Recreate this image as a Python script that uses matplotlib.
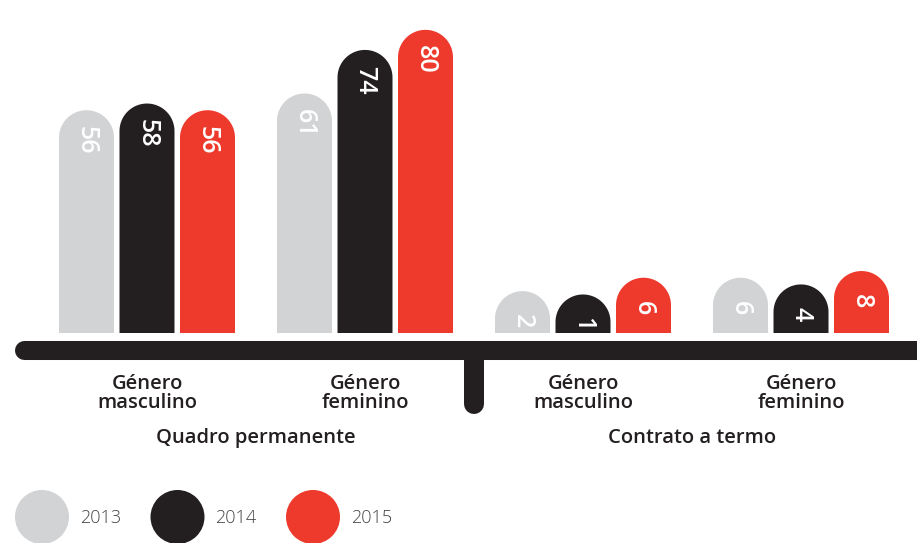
import numpy as np
import matplotlib
matplotlib.use("Agg")
import matplotlib.pyplot as plt
from matplotlib.patches import Polygon

# ------------------------------------------------------------------
# Data
# ------------------------------------------------------------------
years = ["2013", "2014", "2015"]
groups = ["Quadro permanente", "Contrato a termo"]
categories = ["Género\nmasculino", "Género\nfeminino", "Género\nmasculino", "Género\nfeminino"]
values_2013 = [56, 61, 2, 6]
values_2014 = [58, 74, 1, 4]
values_2015 = [56, 80, 6, 8]
colors = ["#d1d3d4", "#231f20", "#ee3a2c"]

# ------------------------------------------------------------------
# Layout (pixel-ish x units, value units on y)
# ------------------------------------------------------------------
W, H = 917, 543
K = 3.35            # pixels per value unit
STEM = 10.5         # minimum visible stem of a bar, in value units
BASE_PX = 333       # baseline position from the top, pixels
bar_w = 55
bar_step = 60.5
group_step = 218
first_center = 147
cap_r = bar_w / 2


def py(p):
    """pixel row (from top) -> value units"""
    return (BASE_PX - p) / K


fig = plt.figure(figsize=(W / 100, H / 100), dpi=100)
ax = fig.add_axes([0, 0, 1, 1])
ax.set_xlim(0, W)
ax.set_ylim(py(H), py(0))
ax.axis("off")

font = "Open Sans"


def rounded_bar(ax, xc, v, color):
    top = v + STEM
    ry = cap_r / K
    t = np.linspace(np.pi, 0, 40)
    arc = np.column_stack([xc + cap_r * np.cos(t), top - ry + ry * np.sin(t)])
    pts = np.vstack([[xc - cap_r, 0], arc, [xc + cap_r, 0]])
    ax.add_patch(Polygon(pts, closed=True, facecolor=color, edgecolor="none"))
    return top


series = [values_2013, values_2014, values_2015]
for gi in range(len(categories)):
    gc = first_center + gi * group_step
    for si, vals in enumerate(series):
        xc = gc + (si - 1) * bar_step
        top = rounded_bar(ax, xc, vals[gi], colors[si])
        ax.text(xc, top - 30 / K, str(vals[gi]), rotation=-90, rotation_mode="anchor",
                ha="center", va="center", color="white", fontsize=18,
                fontweight="semibold", family=font)
    ax.text(gc, py(393.5), categories[gi], ha="center", va="center", fontsize=14.5,
            color="#231f20", family=font, fontweight="semibold", linespacing=0.95)

# baseline and divider
ax.plot([23.5, W + 30], [py(349.5)] * 2, color="#231f20", lw=13.7,
        solid_capstyle="round", clip_on=False)
ax.plot([474, 474], [py(356), py(403.5)], color="#231f20", lw=14.4,
        solid_capstyle="round")

# group labels
for i, g in enumerate(groups):
    gx = (first_center + first_center + group_step) / 2 + i * 2 * group_step
    ax.text(gx, py(438), g, ha="center", va="center", fontsize=14.5,
            color="#231f20", family=font, fontweight="semibold")

# legend
for i, (yr, c) in enumerate(zip(years, colors)):
    cx = 42 + i * 135.5
    ax.scatter([cx], [py(517)], s=1512, color=c, edgecolors="none")
    ax.text(cx + 38, py(518), yr, ha="left", va="center", fontsize=13,
            color="#444444", family=font, fontweight="light")

fig.savefig("out.png", dpi=100)
